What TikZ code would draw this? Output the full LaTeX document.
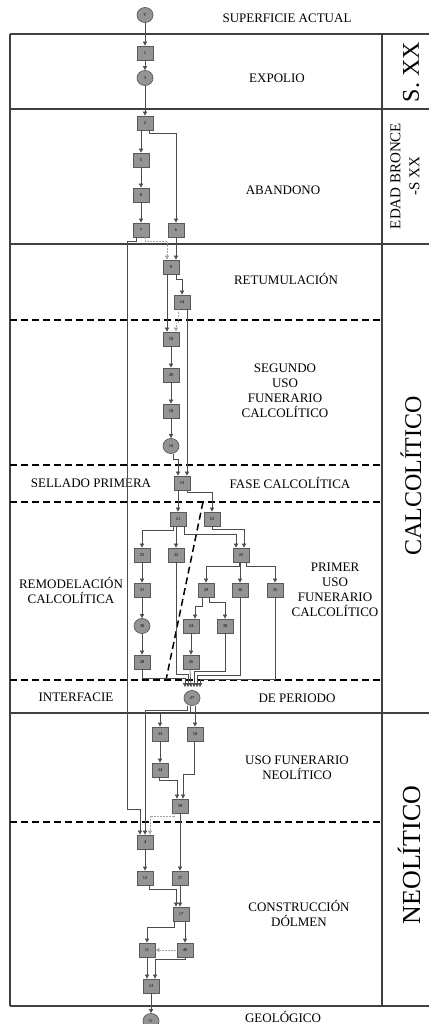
\documentclass[tikz,border=0pt]{standalone}
\usepackage{fontspec}
\setmainfont{Liberation Serif}
\usetikzlibrary{arrows.meta,shapes.geometric}

\begin{document}
\begin{tikzpicture}[x=1pt,y=-1pt,line width=0.6pt,>={Triangle[length=4pt,width=4pt]}]
       \tikzstyle{ue}=[draw=black!65, fill=black!42, line width=0.7pt, minimum width=16pt, minimum height=14pt, inner sep=0pt, font=\fontsize{4.5}{4.5}\selectfont]
       \tikzstyle{interfaz}=[ue, ellipse, minimum height=15pt]
       \tikzstyle{rel}=[draw=black!70, ->]
       \tikzstyle{dudosa}=[draw=black!35, dash pattern=on 2pt off 1pt, -{Triangle[length=4pt,width=4pt,fill=black!35]}]
       \tikzstyle{marco}=[draw=black!75, line width=1.3pt]
       \tikzstyle{fase}=[draw=black, line width=1.5pt, dash pattern=on 7pt off 4pt]
       \tikzstyle{etiqueta}=[font=\fontsize{13}{15}\selectfont, align=center, inner sep=0pt]
       \tikzstyle{periodo}=[font=\fontsize{24}{24}\selectfont, rotate=90, inner sep=0pt]

       \useasboundingbox (0,0) rectangle (429,1024);

       % marco de fases
       \draw[marco] (10,34) -- (429,34);
       \draw[marco] (10,109) -- (429,109);
       \draw[marco] (10,244) -- (429,244);
       \draw[marco] (10,713) -- (429,713);
       \draw[marco] (10,1006) -- (429,1006);
       \draw[marco] (10,34) -- (10,1006);
       \draw[marco] (382,34) -- (382,1006);
       \draw[fase] (10,320) -- (382,320);
       \draw[fase] (10,465) -- (382,465);
       \draw[fase] (10,502) -- (382,502);
       \draw[fase] (10,680) -- (382,680);
       \draw[fase] (10,822) -- (382,822);
       \draw[fase] (203,502) -- (166,680);

       % textos
       \node[etiqueta] (superficie) at (287,18) {SUPERFICIE ACTUAL};
       \node[etiqueta] (expolio) at (277,78) {EXPOLIO};
       \node[etiqueta] (abandono) at (283,190) {ABANDONO};
       \node[etiqueta] (retumulacion) at (286,279) {RETUMULACIÓN};
       \node[etiqueta] (segundo) at (285,391) {SEGUNDO\\USO\\FUNERARIO\\CALCOLÍTICO};
       \node[etiqueta] (sellado) at (91,483) {SELLADO PRIMERA};
       \node[etiqueta] (faseCal) at (290,483) {FASE CALCOLÍTICA};
       \node[etiqueta] (remodelacion) at (71,590) {REMODELACIÓN\\CALCOLÍTICA};
       \node[etiqueta] (primer) at (335,590) {PRIMER\\USO\\FUNERARIO\\CALCOLÍTICO};
       \node[etiqueta] (interfacie) at (76,697) {INTERFACIE};
       \node[etiqueta] (dePeriodo) at (297,698) {DE PERIODO};
       \node[etiqueta] (usoNeo) at (297,768) {USO FUNERARIO\\NEOLÍTICO};
       \node[etiqueta] (construccion) at (299,913) {CONSTRUCCIÓN\\DÓLMEN};
       \node[etiqueta] (geologico) at (283,1017) {GEOLÓGICO};

       \node[periodo] (sxx) at (411,72) {S. XX};
       \node[periodo, font=\fontsize{15}{19}\selectfont, align=center] (bronce) at (405,176) {EDAD BRONCE\\-S XX};
       \node[periodo] (calcolitico) at (411,476) {CALCOLÍTICO};
       \node[periodo, font=\fontsize{26}{26}\selectfont] (neolitico) at (409,855) {NEOLÍTICO};

       % unidades estratigraficas
       \node[interfaz] (T) at (145,15) {T};
       \node[ue] (u1) at (145,53) {1};
       \node[interfaz] (u3) at (145,78) {3};
       \node[ue] (u2) at (145,123) {2};
       \node[ue] (u5) at (141,160) {5};
       \node[ue] (u8) at (141,195) {8};
       \node[ue] (u7) at (141,230) {7};
       \node[ue] (u6) at (176,230) {6};
       \node[ue] (u9) at (171,267) {9};
       \node[ue] (u14) at (182,302) {14};
       \node[ue] (u10) at (171,339) {10};
       \node[ue] (u20) at (171,375) {20};
       \node[ue] (u18) at (171,411) {18};
       \node[interfaz] (u16) at (171,446) {16};
       \node[ue] (u15) at (182,483) {15};
       \node[ue] (u21) at (178,519) {21};
       \node[ue] (u23) at (212,519) {23};
       \node[ue] (u25) at (142,555) {25};
       \node[ue] (u32) at (176,555) {32};
       \node[ue] (u22) at (241,555) {22};
       \node[ue] (u31) at (142,590) {31};
       \node[ue] (u29) at (206,590) {29};
       \node[ue] (u36) at (240,590) {36};
       \node[ue] (u35) at (275,590) {35};
       \node[interfaz] (u30) at (142,626) {30};
       \node[ue] (u24) at (191,626) {24};
       \node[ue] (u38) at (225,626) {38};
       \node[ue] (u28) at (142,662) {28};
       \node[ue] (u26) at (191,662) {26};
       \node[interfaz] (u27) at (192,698) {27};
       \node[ue] (u33) at (160,734) {33};
       \node[ue] (u10b) at (195,734) {10};
       \node[ue] (u34) at (160,770) {34};
       \node[ue] (u39) at (180,806) {39};
       \node[ue] (u4) at (145,842) {4};
       \node[ue] (u12) at (145,878) {12};
       \node[ue] (u37) at (180,878) {37};
       \node[ue] (u17) at (181,914) {17};
       \node[ue] (u11) at (147,950) {11};
       \node[ue] (u40) at (185,950) {40};
       \node[ue] (u13) at (151,986) {13};
       \node[interfaz] (G) at (151,1021) {G};

       % relaciones
       \draw[rel] (T) -- (u1);
       \draw[rel] (u1) -- (u3);
       \draw[rel] (u3) -- (u2);
       \draw[rel] (u2.south -| u5) -- (u5);
       \draw[rel] ([xshift=4pt]u2.south) -- ++(0,3) -| (u6);
       \draw[rel] (u5) -- (u8);
       \draw[rel] (u8) -- (u7);
       \draw[rel] ([xshift=-5pt]u7.south) -- ++(0,4) -- ++(-9,0) |- ([xshift=-5pt,yshift=25pt]u4.north) -- ([xshift=-5pt]u4.north);
       \draw[dudosa] ([xshift=4pt]u7.south) -- ++(0,4) -| ([xshift=-4pt]u9.north);
       \draw[rel] (u6) -- (u6 |- u9.north);
       \draw[rel] ([xshift=-4pt]u9.south) -- ([xshift=-4pt]u10.north);
       \draw[rel] ([xshift=5pt]u9.south) -- ++(0,5) -| (u14);
       \draw[dudosa] ([xshift=-4pt]u14.south) -- ++(0,14) -| ([xshift=5pt]u10.north);
       \draw[rel] ([xshift=5pt]u14.south) -- ([xshift=5pt]u15.north);
       \draw[rel] (u10) -- (u20);
       \draw[rel] (u20) -- (u18);
       \draw[rel] (u18) -- (u16);
       \draw[rel] ([xshift=2pt]u16.south) -- ++(0,5) -| ([xshift=-4pt]u15.north);
       \draw[rel] ([xshift=-4pt]u15.south) -- (u21);
       \draw[rel] ([xshift=5pt]u15.south) -- ++(0,2) -| (u23);
       \draw[rel] ([xshift=-5pt]u21.south) -- ++(0,4) -| (u25);
       \draw[rel] (u21.south -| u32) -- (u32);
       \draw[rel] ([xshift=6pt]u21.south) -- ++(0,8) -| ([xshift=-5pt]u22.north);
       \draw[rel] (u23.south) -- ++(0,3) -| ([xshift=3pt]u22.north);
       \draw[rel] (u25) -- (u31);
       \draw[rel] (u31) -- (u30);
       \draw[rel] (u30) -- (u28);
       \draw[rel] ([xshift=-2pt]u22.south) -- ++(0,4) -| (u29);
       \draw[rel] (u22.south -| u36) -- (u36);
       \draw[rel] ([xshift=5pt]u22.south) -- ++(0,4) -| (u35);
       \draw[rel] ([xshift=-4pt]u29.south) -- ++(0,9) -| ([xshift=4pt]u24.north);
       \draw[rel] ([xshift=3pt]u29.south) -- ++(0,5) -| (u38);
       \draw[rel] (u24) -- (u26);
       \draw[rel] (u28.south) |- ([xshift=-7pt,yshift=12pt]u27.north) -- ([xshift=-7pt,yshift=3pt]u27.north);
       \draw[rel] (u32.south) |- ([xshift=-4pt,yshift=16pt]u27.north) -- ([xshift=-4pt,yshift=3pt]u27.north);
       \draw[rel] ([xshift=-1pt]u26.south) -- ([xshift=-1pt,yshift=3pt]u27.north);
       \draw[rel] (u38.south) |- ([xshift=2pt,yshift=19pt]u27.north) -- ([xshift=2pt,yshift=3pt]u27.north);
       \draw[rel] (u36.south) |- ([xshift=5pt,yshift=15pt]u27.north) -- ([xshift=5pt,yshift=3pt]u27.north);
       \draw[rel] (u35.south) |- ([xshift=8pt,yshift=11pt]u27.north) -- ([xshift=8pt,yshift=3pt]u27.north);
       \draw[rel] ([xshift=-5pt]u27.south) -- ++(0,4) -| (u4);
       \draw[rel] ([xshift=-2pt]u27.south) -- ++(0,7) -| (u33);
       \draw[rel] (u27.south -| u10b) -- (u10b);
       \draw[rel] (u33) -- (u34);
       \draw[rel] ([xshift=-1pt]u34.south) -- ++(0,3) -| ([xshift=-3pt]u39.north);
       \draw[rel] ([xshift=-1pt]u10b.south) -- ++(0,33) -| ([xshift=3pt]u39.north);
       \draw[dudosa] ([xshift=-6pt]u39.south) -- ++(0,3) -| ([xshift=5pt]u4.north);
       \draw[rel] (u39) -- (u37);
       \draw[rel] (u4) -- (u12);
       \draw[rel] ([xshift=4pt]u12.south) -- ++(0,4) -| ([xshift=-5pt]u17.north);
       \draw[rel] (u37) -- (u37 |- u17.north);
       \draw[rel] ([xshift=-7pt]u17.south) -- ++(0,6) -| (u11);
       \draw[rel] (u17.south -| u40) -- (u40);
       \draw[dudosa, {Triangle[length=4pt,width=4pt,fill=black!35]}-] (u11) -- (u40);
       \draw[rel] (u11) -- (u11 |- u13.north);
       \draw[rel] (u40.south) -- ++(0,2) -| ([xshift=4pt]u13.north);
       \draw[rel] (u13) -- (G);
     \end{tikzpicture}
\end{document}
